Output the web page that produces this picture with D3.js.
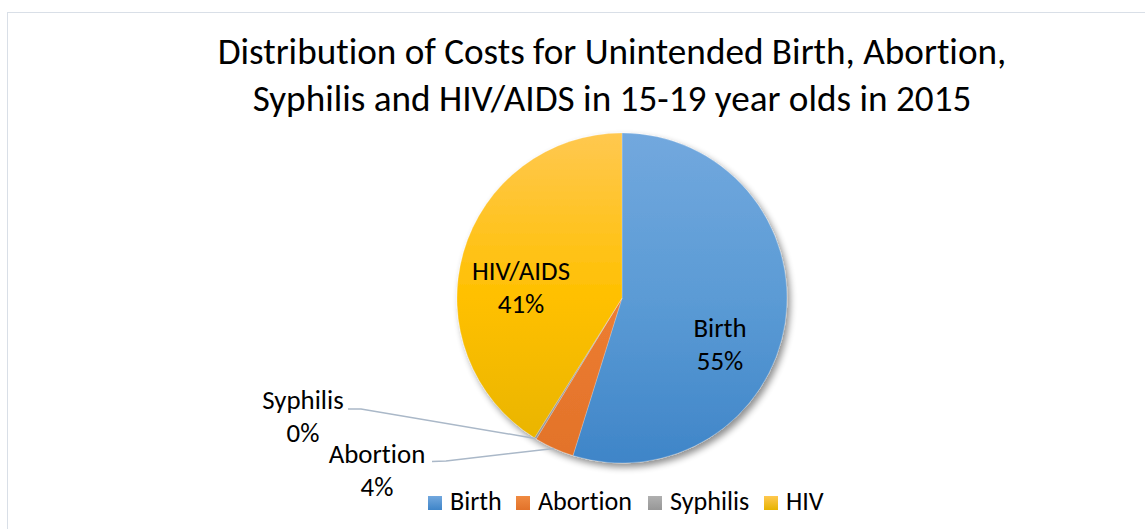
<!DOCTYPE html>
<html>
<head>
<meta charset="utf-8">
<script src="https://cdn.jsdelivr.net/npm/d3@7"></script>
<style>
html,body{margin:0;padding:0;background:#fff;}
svg{display:block;}
text{font-family:Carlito,Calibri,Lato,sans-serif;fill:#000;font-variant-ligatures:none;}
</style>
</head>
<body>
<svg id="chart" width="1145" height="529"></svg>
<script>
// ---- data ----
const categories = ["Birth", "Abortion", "Syphilis", "HIV"];
const sliceNames = ["Birth", "Abortion", "Syphilis", "HIV/AIDS"];
const values = [54.8, 3.9, 0.2, 41.1];
const percentLabels = ["55%", "4%", "0%", "41%"];
const titleLines = ["Distribution of Costs for Unintended Birth, Abortion,", "Syphilis and HIV/AIDS in 15-19 year olds in 2015"];
const colorsTop = ["#72a8de", "#f08b42", "#b0b0b0", "#ffc850"];
const colorsMid = ["#5b9bd5", "#ed7d31", "#a5a5a5", "#ffc000"];
const colorsBottom = ["#3f85c8", "#e2722a", "#979797", "#e6b300"];

const svg = d3.select("#chart");
const W = 1145, H = 529;
const cx = 622, cy = 298, R = 165;

// border
svg.append("rect").attr("x", 7.5).attr("y", 12.5).attr("width", W).attr("height", H)
  .attr("fill", "#fff").attr("stroke", "#d9dfe7").attr("stroke-width", 1);

const defs = svg.append("defs");
// shadow
const f = defs.append("filter").attr("id", "shadow").attr("x", "-20%").attr("y", "-20%").attr("width", "140%").attr("height", "140%");
f.append("feGaussianBlur").attr("in", "SourceAlpha").attr("stdDeviation", 3.5);
f.append("feOffset").attr("dx", 2.5).attr("dy", 3.5).attr("result", "ob");
f.append("feComponentTransfer").append("feFuncA").attr("type", "linear").attr("slope", 0.45);
const fm = f.append("feMerge");
fm.append("feMergeNode");
fm.append("feMergeNode").attr("in", "SourceGraphic");

categories.forEach((c, i) => {
  const g = defs.append("linearGradient").attr("id", "g" + i)
    .attr("gradientUnits", "userSpaceOnUse")
    .attr("x1", 0).attr("y1", -R).attr("x2", 0).attr("y2", R);
  g.append("stop").attr("offset", 0).attr("stop-color", colorsTop[i]);
  g.append("stop").attr("offset", 0.5).attr("stop-color", colorsMid[i]);
  g.append("stop").attr("offset", 1).attr("stop-color", colorsBottom[i]);
  const gl = defs.append("linearGradient").attr("id", "gl" + i)
    .attr("x1", 0).attr("y1", 0).attr("x2", 0).attr("y2", 1);
  gl.append("stop").attr("offset", 0).attr("stop-color", colorsTop[i]);
  gl.append("stop").attr("offset", 1).attr("stop-color", colorsBottom[i]);
});

// helper to fit text sizes to a target width
function fitSize(sample, target) {
  const t = svg.append("text").attr("font-size", 100).text(sample);
  const w = t.node().getComputedTextLength();
  t.remove();
  return 100 * target / w;
}

// title
const titleSize = fitSize(titleLines[0], 789);
svg.append("g").selectAll("text").data(titleLines).join("text")
  .attr("x", 612).attr("y", (d, i) => 64 + i * 47)
  .attr("text-anchor", "middle").attr("font-size", titleSize).attr("fill", "#111").text(d => d);

// pie
const pie = d3.pie().sort(null).value(d => d)(values);
const arc = d3.arc().innerRadius(0).outerRadius(R);
const pg = svg.append("g").attr("transform", `translate(${cx},${cy})`).attr("filter", "url(#shadow)");
pg.selectAll("path").data(pie).join("path")
  .attr("d", arc)
  .attr("fill", (d, i) => `url(#g${i})`)
  .attr("stroke", "#ffffff").attr("stroke-opacity", 0.35).attr("stroke-width", 0.6);

// labels
const labelSize = fitSize("HIV/AIDS", 98);
const labelPos = [
  {x: 720, y: 337},   // Birth
  {x: 377, y: 463},   // Abortion
  {x: 303, y: 409},   // Syphilis
  {x: 521, y: 280}    // HIV/AIDS
];
const lg = svg.append("g");
pie.forEach((d, i) => {
  const t = lg.append("text").attr("text-anchor", "middle").attr("font-size", labelSize).attr("fill", "#111");
  t.append("tspan").attr("x", labelPos[i].x).attr("y", labelPos[i].y).text(sliceNames[i]);
  t.append("tspan").attr("x", labelPos[i].x).attr("y", labelPos[i].y + 33).text(percentLabels[i]);
});

// leader lines for small slices
const outer = d3.arc().innerRadius(R).outerRadius(R);
const leaders = [
  {i: 1, start: [432, 461.5], bend: [446, 461]},
  {i: 2, start: [348, 409], bend: [361, 409]}
];
leaders.forEach(l => {
  const c = outer.centroid(pie[l.i]);
  const end = [cx + c[0], cy + c[1]];
  svg.append("polyline")
    .attr("points", [l.start, l.bend, end].map(p => p.join(",")).join(" "))
    .attr("fill", "none").attr("stroke", "#aab8c8").attr("stroke-width", 1.5);
});

// legend
const legSize = fitSize("Abortion", 94);
const legX = [428, 516, 648, 764];
const leg = svg.append("g");
categories.forEach((c, i) => {
  leg.append("rect").attr("x", legX[i]).attr("y", 496).attr("width", 14).attr("height", 14)
    .attr("fill", `url(#gl${i})`);
  leg.append("text").attr("x", legX[i] + 22).attr("y", 510).attr("font-size", legSize).attr("fill", "#111").text(c);
});
</script>
</body>
</html>
